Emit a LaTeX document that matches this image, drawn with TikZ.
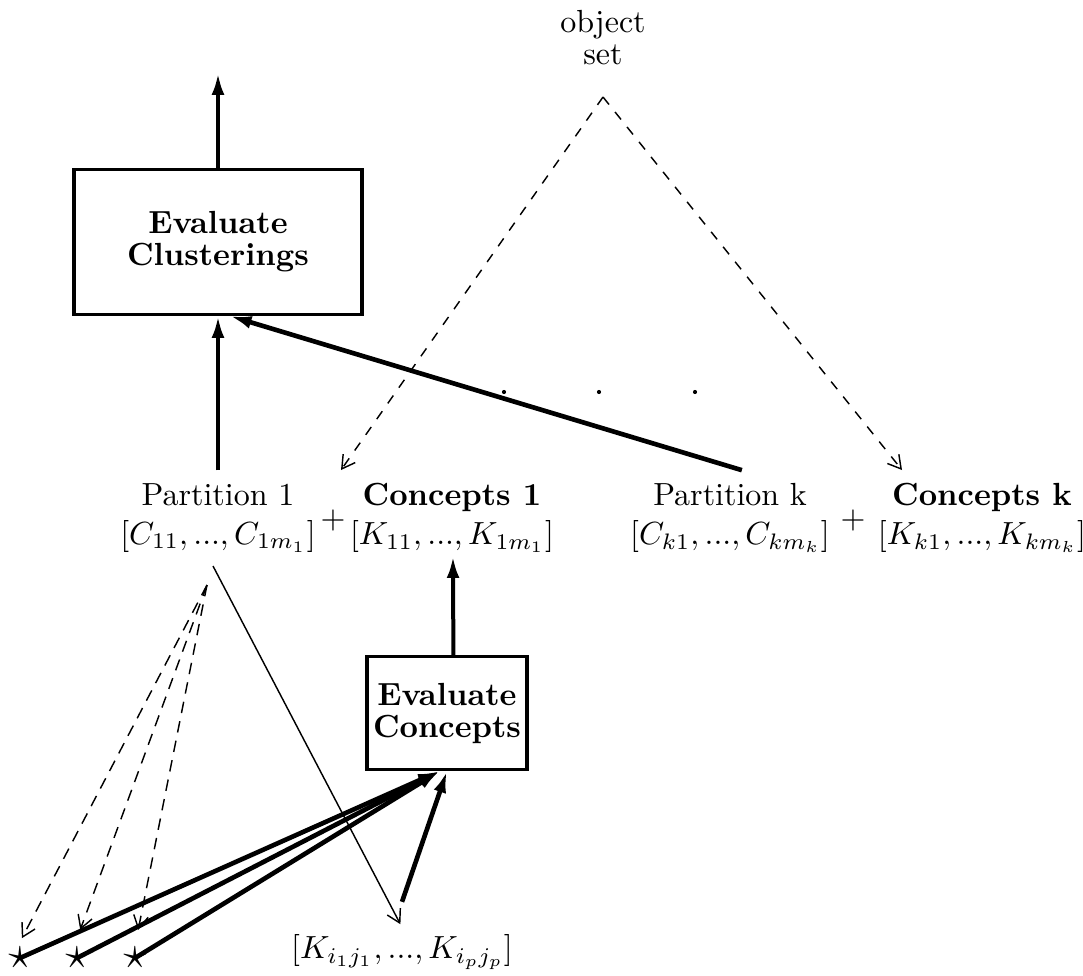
\documentclass[tikz,border=0pt]{standalone}
\usetikzlibrary{arrows.meta}
\begin{document}
\begin{tikzpicture}[x=0.3125pt,y=-0.3125pt,
  box/.style={draw,line width=0.95pt,align=center,inner sep=0pt,
    font=\bfseries\fontsize{10pt}{10pt}\selectfont},
  lbl/.style={align=center,inner sep=1pt},
  heavy/.style={line width=1.25pt,-{Latex[length=6.8pt,width=4pt]}},
  heavier/.style={heavy,line width=1.45pt},
  light/.style={line width=0.45pt,-{Straight Barb[length=4pt,width=4.6pt]}},
  dashedarrow/.style={light,dash pattern=on 3.6pt off 2.6pt},
  dot/.style={circle,fill,inner sep=0pt,minimum size=1.3pt},
  starmark/.style={inner sep=0pt,font=\Large}]
\useasboundingbox (0,0) rectangle (1083,975);

% object set and its split into the partitions
\node[lbl,font=\fontsize{10pt}{10pt}\selectfont] (objset) at (603,38) {object\\set};
\coordinate (top) at (603,97);
\coordinate (t1) at (341,470);
\coordinate (tk) at (902,470);
\draw[dashedarrow,dash pattern=on 3pt off 3pt] (top) -- (t1);
\draw[dashedarrow,dash pattern=on 3pt off 3pt] (top) -- (tk);

% clustering evaluation
\node[box,minimum width=90pt,minimum height=45.3pt] (ec) at (218,242) {Evaluate\\Clusterings};
\coordinate (out) at (218,73);
\draw[heavy] (ec.north) -- (out);

% partitions and concepts
\node[lbl] (p1) at (218,518) {Partition 1\\$[C_{11}, ..., C_{1m_1}]$};
\node[lbl] (plus1) at (333,520) {$+$};
\node[lbl] (c1) at (452,518) {\textbf{Concepts 1}\\$[K_{11}, ..., K_{1m_1}]$};
\node[lbl] (pk) at (730,518) {Partition k\\$[C_{k1}, ..., C_{km_k}]$};
\node[lbl] (plusk) at (853,520) {$+$};
\node[lbl] (ck) at (982,518) {\textbf{Concepts k}\\$[K_{k1}, ..., K_{km_k}]$};

\draw[heavy] ([yshift=3pt]p1.north) -- (ec.south);
\draw[heavier] ([xshift=3.7pt,yshift=3pt]pk.north) -- ([xshift=3.7pt]ec.south);

\node[dot] (d1) at (504,392) {};
\node[dot] (d2) at (599,392) {};
\node[dot] (d3) at (695,392) {};

% concept evaluation
\node[box,minimum width=50pt,minimum height=35.3pt] (ecc) at (447,713) {Evaluate\\Concepts};
\draw[heavy] ([xshift=2pt]ecc.north) -- ([xshift=0.3pt]c1.south);

\coordinate (apex) at (213,566);
\coordinate (fork) at (207,585);
\node[lbl] (kij) at (402,952) {$[K_{i_1j_1}, ..., K_{i_pj_p}]$};
\draw[light] (apex) -- ([xshift=-0.5pt,yshift=2pt]kij.north);

\node[starmark] (s1) at (20,958) {$\star$};
\node[starmark] (s2) at (77,958) {$\star$};
\node[starmark] (s3) at (135,958) {$\star$};

\draw[dashedarrow] (fork) -- ([xshift=0.6pt,yshift=6.2pt]s1.center);
\draw[dashedarrow] (fork) -- ([xshift=1pt,yshift=8.8pt]s2.center);
\draw[dashedarrow] (fork) -- ([xshift=1pt,yshift=8.8pt]s3.center);

\draw[heavier] (s1.center) -- ([xshift=-2.2pt]ecc.south);
\draw[heavier] (s2.center) -- ([xshift=-2.2pt]ecc.south);
\draw[heavier] (s3.center) -- ([xshift=-2.2pt]ecc.south);
\draw[heavier] ([yshift=9pt]kij.north) -- (ecc.south);
\end{tikzpicture}
\end{document}
